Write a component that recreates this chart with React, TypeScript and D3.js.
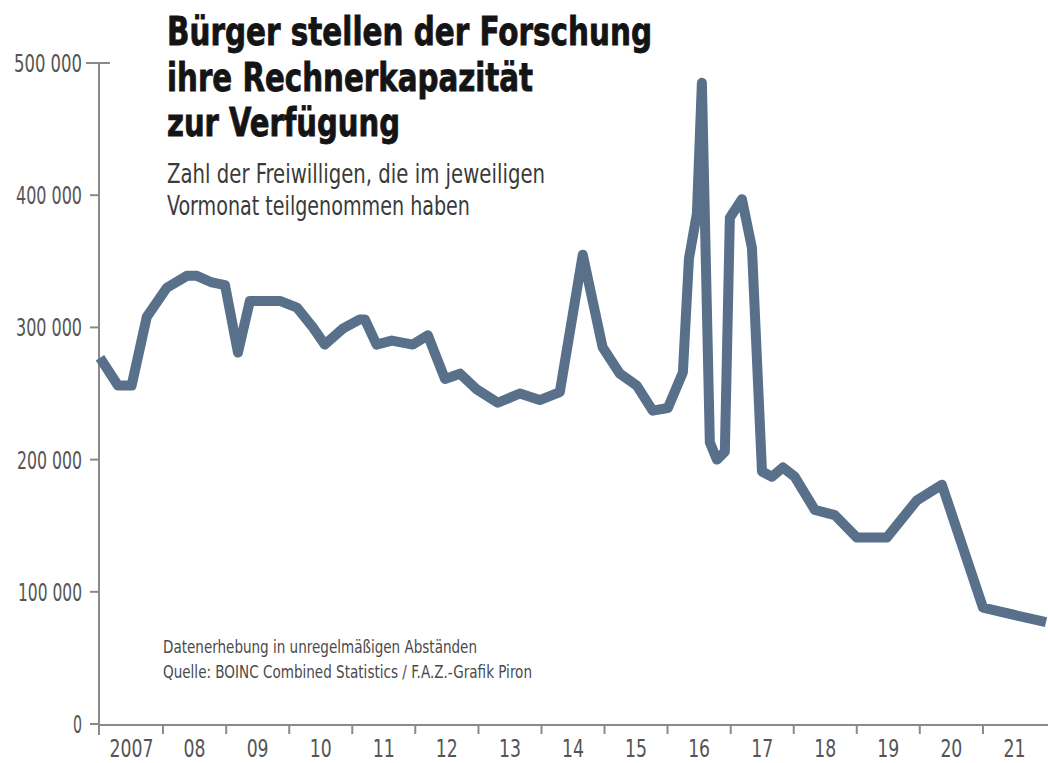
import React from "react";
import * as d3 from "d3";

const dates = [
  "2007-01-01", "2007-04-15", "2007-07-03", "2007-09-29", "2008-01-23", "2008-05-18",
  "2008-07-15", "2008-10-10", "2008-12-25", "2009-03-10", "2009-05-18", "2009-11-08",
  "2010-02-15", "2010-05-18", "2010-07-26", "2010-11-07", "2011-02-14", "2011-03-15",
  "2011-05-22", "2011-08-18", "2011-12-18", "2012-03-14", "2012-06-21", "2012-09-16",
  "2012-12-23", "2013-04-23", "2013-08-29", "2013-12-22", "2014-04-17", "2014-08-28",
  "2014-12-21", "2015-03-31", "2015-07-07", "2015-10-07", "2016-01-03", "2016-03-30",
  "2016-05-04", "2016-06-19", "2016-07-18", "2016-09-02", "2016-10-13", "2016-11-28",
  "2016-12-27", "2017-03-07", "2017-05-04", "2017-07-01", "2017-08-28", "2017-10-30",
  "2018-01-07", "2018-05-03", "2018-08-27", "2019-01-01", "2019-06-24", "2019-12-14",
  "2020-05-08", "2021-01-01", "2022-01-01",
];

const volunteers = [
  277000, 256000, 256000, 308000, 330000, 339000,
  339000, 334000, 332000, 281000, 320000, 320000,
  315000, 300000, 287000, 299000, 306000, 306000,
  287000, 290000, 287000, 294000, 261000, 265000,
  253000, 243000, 250000, 245000, 251000, 355000,
  285000, 265000, 256000, 237000, 239000, 266000,
  352000, 386000, 485000, 213000, 200000, 206000,
  383000, 397000, 360000, 191000, 187000, 194000,
  187000, 162000, 158000, 141000, 141000, 169000,
  181000, 88000, 77000,
];

const yTicks = [0, 100000, 200000, 300000, 400000, 500000];
const yTickLabels = ["0", "100 000", "200 000", "300 000", "400 000", "500 000"];
const yearLabels = ["2007", "08", "09", "10", "11", "12", "13", "14", "15", "16", "17", "18", "19", "20", "21"];

const titleLines = ["Bürger stellen der Forschung", "ihre Rechnerkapazität", "zur Verfügung"];
const subtitleLines = ["Zahl der Freiwilligen, die im jeweiligen", "Vormonat teilgenommen haben"];
const noteLines = [
  "Datenerhebung in unregelmäßigen Abständen",
  "Quelle: BOINC Combined Statistics / F.A.Z.-Grafik Piron",
];

const W = 1048;
const H = 763;
const FONT = "'DejaVu Sans Condensed', 'Liberation Sans Narrow', Roboto, 'Liberation Sans', sans-serif";

export default function App() {
  const parse = d3.timeParse("%Y-%m-%d");
  const data = dates.map((d, i) => ({ date: parse(d) as Date, value: volunteers[i] }));

  const x = d3
    .scaleTime()
    .domain([new Date(2007, 0, 1), new Date(2022, 0, 1)])
    .range([100, 1046]);
  const y = d3.scaleLinear().domain([0, 500000]).range([724, 63]);

  const line = d3
    .line<{ date: Date; value: number }>()
    .x((d) => x(d.date))
    .y((d) => y(d.value))
    .curve(d3.curveLinear);

  const years = d3.range(2007, 2022);
  const titleWidths = [485, 366, 233];
  const subWidths = [378, 303];
  const noteWidths = [314, 369];
  const yLabelWidths = [9, 64, 65, 66, 66, 68];

  return (
    <svg
      width={W}
      height={H}
      style={{ position: "absolute", left: 0, top: 0, background: "#fff" }}
      fontFamily={FONT}
    >
      <rect x={0} y={0} width={W} height={H} fill="#fff" />

      {/* title */}
      {titleLines.map((t, i) => (
        <text
          key={t}
          x={167}
          y={45 + i * 45.5}
          fontSize={39}
          fontWeight="bold"
          fill="#141414"
          stroke="#141414"
          strokeWidth={0.8}
          textLength={titleWidths[i]}
          lengthAdjust="spacingAndGlyphs"
        >
          {t}
        </text>
      ))}
      {subtitleLines.map((t, i) => (
        <text
          key={t}
          x={167}
          y={183 + i * 32}
          fontSize={27}
          fill="#3a3a3a"
          textLength={subWidths[i]}
          lengthAdjust="spacingAndGlyphs"
        >
          {t}
        </text>
      ))}

      {/* y axis */}
      <line x1={99} x2={99} y1={y(500000)} y2={735} stroke="#8a8a8a" strokeWidth={2} />
      {yTicks.map((t, i) => (
        <g key={t}>
          <line
            x1={t === 500000 ? 86 : 90}
            x2={t === 500000 ? 110 : 99}
            y1={y(t)}
            y2={y(t)}
            stroke="#8a8a8a"
            strokeWidth={2}
          />
          <text
            x={82}
            y={y(t) + 9}
            fontSize={24}
            fill="#555"
            textAnchor="end"
            textLength={yLabelWidths[i]}
            lengthAdjust="spacingAndGlyphs"
          >
            {yTickLabels[i]}
          </text>
        </g>
      ))}

      {/* x axis */}
      <line x1={99} x2={W} y1={y(0) + 1} y2={y(0) + 1} stroke="#8a8a8a" strokeWidth={2} />
      {years.slice(1).map((yr) => (
        <line
          key={yr}
          x1={x(new Date(yr, 0, 1))}
          x2={x(new Date(yr, 0, 1))}
          y1={y(0)}
          y2={y(0) + 10}
          stroke="#8a8a8a"
          strokeWidth={2}
        />
      ))}
      {years.map((yr, i) => (
        <text
          key={"l" + yr}
          x={x(new Date(yr, 6, 2))}
          y={757}
          fontSize={25}
          fill="#555"
          textAnchor="middle"
          textLength={yearLabels[i].length === 4 ? 44 : 22}
          lengthAdjust="spacingAndGlyphs"
        >
          {yearLabels[i]}
        </text>
      ))}

      {/* notes */}
      {noteLines.map((t, i) => (
        <text
          key={t}
          x={163}
          y={653 + i * 25}
          fontSize={17}
          fill="#4a4a4a"
          textLength={noteWidths[i]}
          lengthAdjust="spacingAndGlyphs"
        >
          {t}
        </text>
      ))}

      {/* line */}
      <path
        d={line(data) || ""}
        fill="none"
        stroke="#587089"
        strokeWidth={10}
        strokeLinejoin="round"
        strokeLinecap="butt"
      />
    </svg>
  );
}
